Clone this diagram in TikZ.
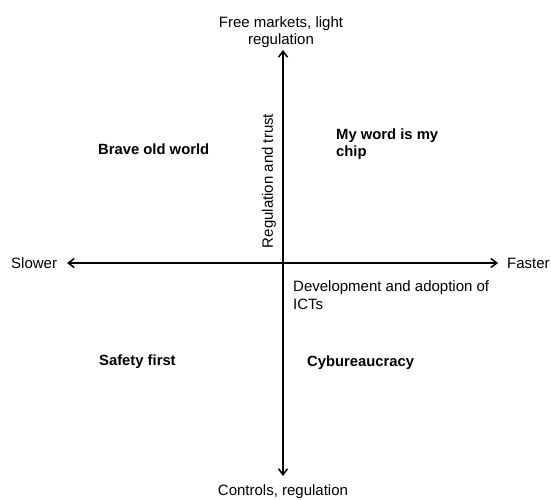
\documentclass[tikz,border=0pt]{standalone}
\usepackage{fontspec}
\setmainfont{Liberation Sans}
\usetikzlibrary{positioning, arrows.meta}

\tikzset{
  axis/.style={line width=1.6pt, {Straight Barb[length=6pt,width=9pt,line width=1.5pt]}-{Straight Barb[length=6pt,width=9pt,line width=1.5pt]}},
  lbl/.style={font=\fontsize{15}{17.5}\selectfont, inner sep=0pt, align=center},
  quad/.style={font=\fontsize{14.8}{17.5}\selectfont\bfseries, inner sep=0pt, align=left}
}

\begin{document}
\begin{tikzpicture}[x=1pt, y=-1pt]
    \useasboundingbox (0,0) rectangle (551,500);

    % Axis ends
    \coordinate (top) at (283, 50);
    \coordinate (bottom) at (283, 476);
    \coordinate (left) at (67, 263);
    \coordinate (right) at (498, 263);

    % Axes
    \draw[axis] (bottom) -- (top);
    \draw[axis] (left) -- (right);

    % Axis end labels
    \node[lbl] (free) at (281, 32) {Free markets, light\\regulation};
    \node[lbl] (controls) at (283, 492) {Controls, regulation};
    \node[lbl, anchor=west] (slower) at (11, 263) {Slower};
    \node[lbl, anchor=west] (faster) at (507, 263) {Faster};

    % Axis titles
    \node[lbl, align=left, anchor=west] (dev) at (293, 295) {Development and adoption of\\ICTs};
    \node[lbl, rotate=90] (trust) at (269, 181) {Regulation and trust};

    % Quadrants
    \node[quad, anchor=west] (brave) at (98, 149) {Brave old world};
    \node[quad, anchor=west] (chip) at (336, 144) {My word is my\\chip};
    \node[quad, anchor=west] (safety) at (99, 362) {Safety first};
    \node[quad, anchor=west] (cyber) at (307, 363) {Cybureaucracy};
\end{tikzpicture}
\end{document}
